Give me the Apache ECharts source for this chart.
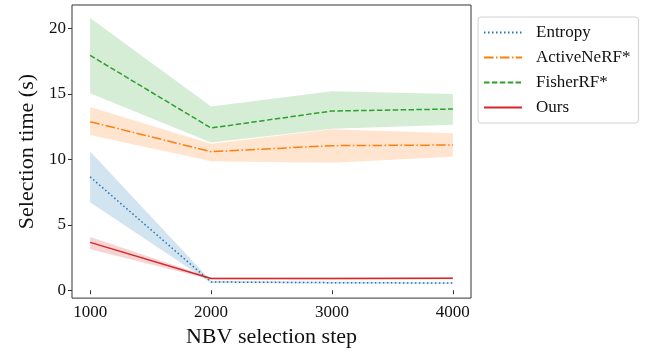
<!DOCTYPE html>
<html>
<head>
<meta charset="utf-8">
<script src="https://cdn.jsdelivr.net/npm/echarts@6/dist/echarts.min.js"></script>
<style>
  html, body { margin: 0; padding: 0; background: #fff; }
  #chart { width: 645px; height: 353px; }
</style>
</head>
<body>
<div id="chart"></div>
<script>
// NBV selection steps
const steps = [1000, 2000, 3000, 4000];
const methods = ['Entropy', 'ActiveNeRF*', 'FisherRF*', 'Ours'];

// Mean selection time (s) per method
const entropyMean = [8.66, 0.63, 0.58, 0.55];
const activeMean  = [12.88, 10.59, 11.05, 11.1];
const fisherMean  = [17.95, 12.4, 13.7, 13.85];
const oursMean    = [3.66, 0.9, 0.9, 0.92];

// Spread bands (lower / upper)
const entropyLow  = [6.73, 0.55, 0.52, 0.5];
const entropyHigh = [10.6, 0.72, 0.64, 0.6];
const activeLow   = [11.87, 9.86, 9.75, 10.2];
const activeHigh  = [14.0, 11.2, 12.3, 12.0];
const fisherLow   = [15.06, 11.3, 12.35, 12.65];
const fisherHigh  = [20.8, 14.05, 15.2, 15.0];
const oursLow     = [3.14, 0.82, 0.83, 0.85];
const oursHigh    = [4.07, 0.98, 0.98, 1.0];

const xTicks = [1000, 2000, 3000, 4000];
const yTicks = [0, 5, 10, 15, 20];

const colors = ['#1f77b4', '#ff7f0e', '#2ca02c', '#d62728'];
const bandColors = ['rgba(31,119,180,0.2)', 'rgba(255,127,14,0.2)', 'rgba(44,160,44,0.2)', 'rgba(214,39,40,0.2)'];
const dashes = [[1.5, 2.5], [9.6, 2.4, 1.5, 2.4], [5.5, 2.4], 'solid'];

const means = [entropyMean, activeMean, fisherMean, oursMean];
const lows = [entropyLow, activeLow, fisherLow, oursLow];
const highs = [entropyHigh, activeHigh, fisherHigh, oursHigh];

const font = '"Liberation Serif", "Times New Roman", serif';

function bandSeries(i) {
  return {
    type: 'custom',
    name: methods[i] + ' band',
    silent: true,
    z: 1,
    data: [0],
    renderItem: function (params, api) {
      const pts = [];
      for (let k = 0; k < steps.length; k++) pts.push(api.coord([steps[k], highs[i][k]]));
      for (let k = steps.length - 1; k >= 0; k--) pts.push(api.coord([steps[k], lows[i][k]]));
      return { type: 'polygon', shape: { points: pts }, style: { fill: bandColors[i] } };
    }
  };
}

function lineSeries(i) {
  return {
    type: 'line',
    name: methods[i],
    z: 3,
    symbol: 'none',
    showSymbol: false,
    color: colors[i],
    lineStyle: { color: colors[i], width: 1.5, type: dashes[i] },
    data: steps.map((s, k) => [s, means[i][k]])
  };
}

const series = [];
for (let i = 0; i < 4; i++) series.push(bandSeries(i));
for (let i = 0; i < 4; i++) series.push(lineSeries(i));

const chart = echarts.init(document.getElementById('chart'), null, { renderer: 'canvas' });
chart.setOption({
  animation: false,
  backgroundColor: '#fff',
  textStyle: { fontFamily: font },
  grid: { left: 72, top: 5, right: 174, bottom: 50, show: true, borderColor: '#333', borderWidth: 1, backgroundColor: 'transparent' },
  xAxis: {
    type: 'value',
    min: 850, max: 4150,
    name: 'NBV selection step',
    nameLocation: 'middle',
    nameGap: 25,
    nameTextStyle: { fontFamily: font, fontSize: 22, color: '#111' },
    axisLine: { show: false },
    splitLine: { show: false },
    axisTick: { show: true, customValues: xTicks, length: 4, lineStyle: { color: '#333' } },
    axisLabel: { customValues: xTicks, formatter: v => String(v), fontFamily: font, fontSize: 17, color: '#111', margin: 6 }
  },
  yAxis: {
    type: 'value',
    min: -0.6, max: 21.8,
    name: 'Selection time (s)',
    nameLocation: 'middle',
    nameGap: 33,
    nameTextStyle: { fontFamily: font, fontSize: 22, color: '#111' },
    axisLine: { show: false },
    splitLine: { show: false },
    axisTick: { show: true, customValues: yTicks, length: 4, lineStyle: { color: '#333' } },
    axisLabel: { customValues: yTicks, formatter: v => String(v), fontFamily: font, fontSize: 17, color: '#111', margin: 6 }
  },
  legend: {
    data: methods,
    orient: 'vertical',
    left: 478, top: 17,
    padding: [7, 8, 7, 5],
    itemWidth: 38, itemHeight: 14, itemGap: 8,
    itemStyle: { opacity: 0 },
    borderColor: '#d0d0d0', borderWidth: 1, borderRadius: 3,
    textStyle: { fontFamily: font, fontSize: 17, color: '#111', padding: [0, 0, 0, 9] }
  },
  series: series
});
</script>
</body>
</html>
